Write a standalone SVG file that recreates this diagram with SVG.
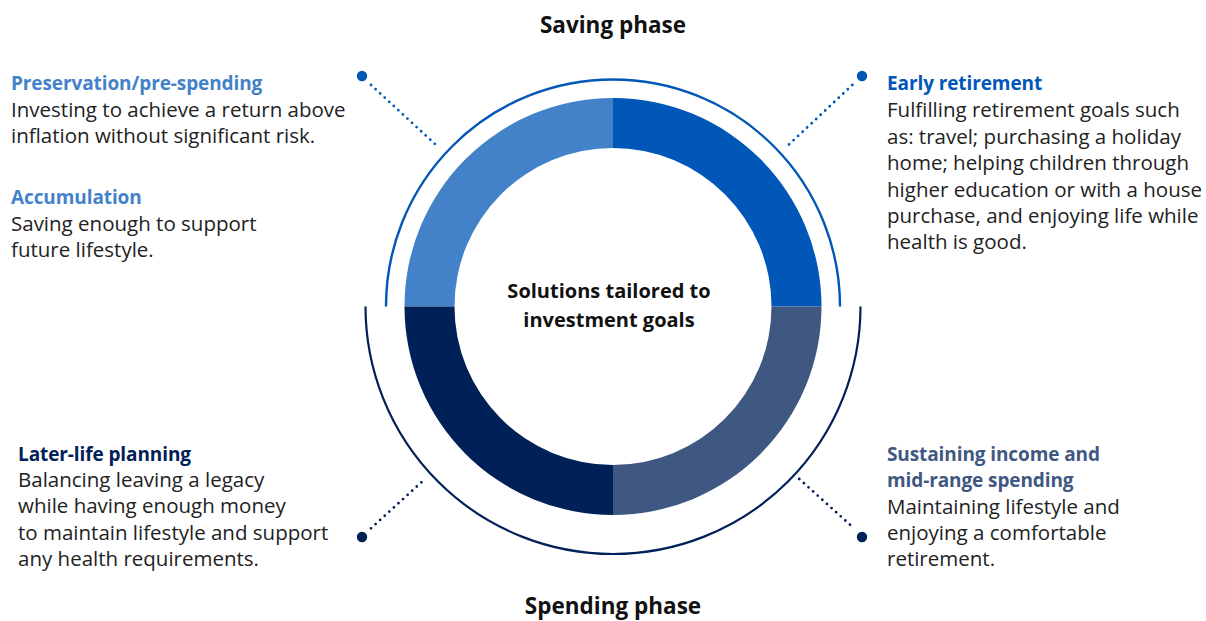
<svg xmlns="http://www.w3.org/2000/svg" width="1206" height="621" viewBox="0 0 1206 621">
<style>
text{font-family:"Open Sans","Liberation Sans",sans-serif}
.b{font-size:20.5px;fill:#222}
.t{font-size:19px;font-weight:700;letter-spacing:-0.1px}
.h{font-size:22.5px;font-weight:700;fill:#111;text-anchor:middle}
.c{font-size:20px;font-weight:700;fill:#111;text-anchor:middle}
.dl{fill:none;stroke-width:2.8;stroke-linecap:round;stroke-dasharray:0 6.2}
</style>
<rect width="1206" height="621" fill="#fff"/>
<g id="donut">
<path d="M404.5 306.5A208.5 208.5 0 0 1 613 98L613 148A158.5 158.5 0 0 0 454.5 306.5Z" fill="#4382C8"/>
<path d="M613 98A208.5 208.5 0 0 1 821.5 306.5L771.5 306.5A158.5 158.5 0 0 0 613 148Z" fill="#0057B7"/>
<path d="M821.5 306.5A208.5 208.5 0 0 1 613 515L613 465A158.5 158.5 0 0 0 771.5 306.5Z" fill="#3F5882"/>
<path d="M613 515A208.5 208.5 0 0 1 404.5 306.5L454.5 306.5A158.5 158.5 0 0 0 613 465Z" fill="#002058"/>
<text class="c" x="609" y="298">Solutions tailored to</text>
<text class="c" x="609" y="327">investment goals</text>
</g>
<g id="phases">
<path d="M386 306.5A227 227 0 0 1 840 306.5" fill="none" stroke="#0057B7" stroke-width="2.4"/>
<path d="M365.5 306.5A247.5 247.5 0 0 0 860.5 306.5" fill="none" stroke="#002058" stroke-width="2.2"/>
<text class="h" x="613" y="33">Saving phase</text>
<text class="h" x="613" y="614">Spending phase</text>
</g>
<g id="connectors">
<path class="dl" d="M371 85L439 147.7" stroke="#0057B7"/>
<circle cx="362" cy="76" r="5.2" fill="#0057B7"/>
<path class="dl" d="M852.3 85L785 148.3" stroke="#0057B7"/>
<circle cx="862" cy="76" r="5.2" fill="#0057B7"/>
<path class="dl" d="M371 528.3L425 479" stroke="#002058"/>
<circle cx="362" cy="537" r="5.2" fill="#002058"/>
<path class="dl" d="M799.3 479L854 528.3" stroke="#002058"/>
<circle cx="862" cy="537" r="5.2" fill="#002058"/>
</g>
<g id="preservation">
<text class="t" x="11" y="90" fill="#4382C8">Preservation/pre-spending</text>
<text class="b" x="11" y="117">Investing to achieve a return above</text>
<text class="b" x="11" y="143">inflation without significant risk.</text>
</g>
<g id="accumulation">
<text class="t" x="11" y="204" fill="#4382C8">Accumulation</text>
<text class="b" x="11" y="231">Saving enough to support</text>
<text class="b" x="11" y="257">future lifestyle.</text>
</g>
<g id="early-retirement">
<text class="t" x="887" y="90" fill="#0057B7">Early retirement</text>
<text class="b" x="887" y="117">Fulfilling retirement goals such</text>
<text class="b" x="887" y="144">as: travel; purchasing a holiday</text>
<text class="b" x="887" y="170">home; helping children through</text>
<text class="b" x="887" y="197">higher education or with a house</text>
<text class="b" x="887" y="223">purchase, and enjoying life while</text>
<text class="b" x="887" y="249">health is good.</text>
</g>
<g id="later-life">
<text class="t" x="18" y="461" fill="#002058">Later-life planning</text>
<text class="b" x="18" y="487">Balancing leaving a legacy</text>
<text class="b" x="18" y="513">while having enough money</text>
<text class="b" x="18" y="540">to maintain lifestyle and support</text>
<text class="b" x="18" y="566">any health requirements.</text>
</g>
<g id="sustaining">
<text class="t" x="887" y="461" fill="#3F5882">Sustaining income and</text>
<text class="t" x="887" y="487" fill="#3F5882">mid-range spending</text>
<text class="b" x="887" y="514">Maintaining lifestyle and</text>
<text class="b" x="887" y="540">enjoying a comfortable</text>
<text class="b" x="887" y="566">retirement.</text>
</g>
</svg>
